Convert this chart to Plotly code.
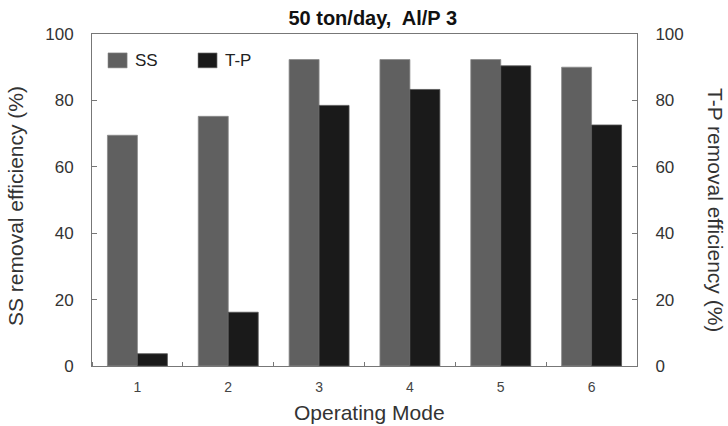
import plotly.graph_objects as go

modes = [1, 2, 3, 4, 5, 6]
ss_eff = [69.5, 75.2, 92.3, 92.3, 92.3, 90.0]
tp_eff = [3.7, 16.2, 78.5, 83.3, 90.4, 72.6]
y_ticks = [0, 20, 40, 60, 80, 100]
series_names = ["SS", "T-P"]
series_colors = ["#606060", "#1a1a1a"]

fig = go.Figure()
fig.add_trace(go.Bar(x=modes, y=ss_eff, name=series_names[0],
                     marker=dict(color=series_colors[0], line=dict(color="#8a8a8a", width=0.8)),
                     offsetgroup="1", yaxis="y"))
fig.add_trace(go.Bar(x=modes, y=tp_eff, name=series_names[1],
                     marker=dict(color=series_colors[1], line=dict(color="#555555", width=0.8)),
                     offsetgroup="2", yaxis="y2"))

axis_col = "#777777"
txt_col = "#333333"
fig.update_layout(
    width=728, height=426,
    margin=dict(l=92, r=91, t=34, b=60, autoexpand=False),
    paper_bgcolor="white", plot_bgcolor="white",
    font=dict(family="Liberation Sans, Arial", color=txt_col),
    barmode="group", bargap=0.34, bargroupgap=0,
    title=dict(text="<b>50 ton/day,\u00a0 Al/P 3</b>", x=0.512, xanchor="center", y=0.957, yanchor="middle",
               font=dict(size=20, color="#111111")),
    showlegend=False,
    xaxis=dict(range=[0.5, 6.5], tickvals=modes, ticktext=[str(m) for m in modes], ticks="",
               tickfont=dict(size=14, color="#444444"), ticklabelstandoff=8,
               showline=True, linecolor=axis_col, linewidth=1, mirror=True, showgrid=False, zeroline=False,
               minor=dict(ticks="inside", tick0=0.5, dtick=1, ticklen=4, tickcolor=axis_col)),
    yaxis=dict(range=[0, 100], tickvals=y_ticks, ticks="inside", ticklen=5, tickcolor=axis_col,
               tickfont=dict(size=17, color=txt_col), ticklabelstandoff=14,
               showline=True, linecolor=axis_col, linewidth=1, showgrid=False, zeroline=False),
    yaxis2=dict(range=[0, 100], tickvals=y_ticks, ticks="inside", ticklen=5, tickcolor=axis_col,
                tickfont=dict(size=17, color=txt_col), ticklabelstandoff=14, overlaying="y", side="right",
                showline=True, linecolor=axis_col, linewidth=1, showgrid=False, zeroline=False),
)

# axis titles
fig.add_annotation(text="SS removal efficiency (%)", xref="paper", yref="paper", x=0, y=0.5,
                   xshift=-77, yshift=-6, textangle=-90, showarrow=False,
                   font=dict(size=21, color=txt_col), xanchor="center", yanchor="middle")
fig.add_annotation(text="T-P removal efficiency (%)", xref="paper", yref="paper", x=1, y=0.5,
                   xshift=79, yshift=-10, textangle=90, showarrow=False,
                   font=dict(size=21, color=txt_col), xanchor="center", yanchor="middle")
fig.add_annotation(text="Operating Mode", xref="paper", yref="paper", x=0.5, y=0,
                   xshift=5, yshift=-46, showarrow=False,
                   font=dict(size=21, color=txt_col), xanchor="center", yanchor="middle")

# legend (swatches + labels)
leg_x = [0.0294, 0.1945]
for i, name in enumerate(series_names):
    fig.add_shape(type="rect", xref="paper", yref="paper", x0=leg_x[i], x1=leg_x[i] + 0.035,
                  y0=0.898, y1=0.943, fillcolor=series_colors[i], line=dict(color="#888888", width=0.6))
    fig.add_annotation(text=name, xref="paper", yref="paper", x=leg_x[i] + 0.045, y=0.921,
                       showarrow=False, xanchor="left", yanchor="middle",
                       font=dict(size=17, color="#222222"))

fig.write_html("out.html")
